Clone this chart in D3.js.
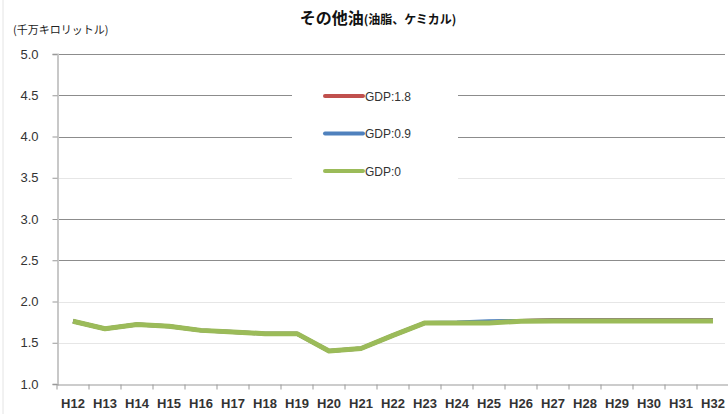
<!DOCTYPE html>
<html lang="ja">
<head>
<meta charset="UTF-8">
<title>その他油(油脂、ケミカル)</title>
<style>
  body { margin: 0; background: #fff; font-family: "Liberation Sans", Arial, "Noto Sans CJK JP", sans-serif; }
</style>
</head>
<body>
<script src="https://cdn.jsdelivr.net/npm/d3@7"></script>
<script>
var years = ["H12","H13","H14","H15","H16","H17","H18","H19","H20","H21","H22",
             "H23","H24","H25","H26","H27","H28","H29","H30","H31","H32"];
var gdp18 = [1.76,1.67,1.72,1.70,1.65,1.63,1.61,1.61,1.40,1.43,1.59,
             1.74,1.74,1.75,1.765,1.775,1.775,1.775,1.775,1.775,1.775];
var gdp09 = [1.76,1.67,1.72,1.70,1.65,1.63,1.61,1.61,1.40,1.43,1.59,
             1.74,1.745,1.76,1.765,1.77,1.77,1.77,1.77,1.77,1.77];
var gdp0  = [1.76,1.67,1.72,1.70,1.65,1.63,1.61,1.61,1.40,1.43,1.59,
             1.74,1.74,1.74,1.76,1.765,1.765,1.765,1.765,1.765,1.765];
var seriesNames = ["GDP:1.8","GDP:0.9","GDP:0"];
var seriesColors = ["#c0504d","#4f81bd","#9bbb59"];
var seriesWidths = [4, 4, 5];
var yTicks = [1.0,1.5,2.0,2.5,3.0,3.5,4.0,4.5,5.0];
var darkGrid = [2.5,3.0,4.0,4.5,5.0];

var W = 728, H = 414;
var plotL = 57, plotT = 54, plotB = 384;

var svg = d3.select("body").append("svg")
    .attr("width", W).attr("height", H);

// faint frame at left
svg.append("line").attr("x1", 3).attr("x2", 3).attr("y1", 0).attr("y2", H)
    .attr("stroke", "#e4e4e4");

var x = d3.scaleBand().domain(years).range([plotL, plotL + 32 * years.length]);
var y = d3.scaleLinear().domain([1, 5]).range([plotB, plotT]);

// grid
svg.append("g").selectAll("line")
    .data(yTicks.filter(function(d) { return d > 1; }))
  .enter().append("line")
    .attr("x1", plotL).attr("x2", 725)
    .attr("y1", function(d) { return Math.round(y(d)) + 0.5; })
    .attr("y2", function(d) { return Math.round(y(d)) + 0.5; })
    .attr("stroke", function(d) { return darkGrid.indexOf(d) >= 0 ? "#8c8c8c" : "#e6e6e6"; })
    .attr("stroke-width", 1.2);

// y axis
var yAxis = d3.axisLeft(y).tickValues(yTicks).tickFormat(d3.format(".1f")).tickSize(5).tickPadding(14);
var gy = svg.append("g").attr("transform", "translate(" + (plotL + 0.5) + ",0)").call(yAxis);
gy.select(".domain").attr("stroke", "#c8c8c8").attr("stroke-width", 2);
gy.selectAll(".tick line").attr("stroke", "#999");
gy.selectAll("text").attr("font-size", 13).attr("fill", "#333")
    .attr("font-family", "'Liberation Sans', Arial, sans-serif");

// x axis
var xAxis = d3.axisBottom(x).tickSize(0).tickPadding(14);
var gx = svg.append("g").attr("transform", "translate(0," + (plotB + 0.5) + ")").call(xAxis);
gx.select(".domain").attr("stroke", "#999").attr("stroke-width", 1.2);
gx.selectAll("text").attr("font-size", 13).attr("fill", "#333")
    .attr("font-family", "'Liberation Sans Narrow', 'Liberation Sans', Arial, sans-serif")
    .attr("font-weight", "bold");
gx.append("g").selectAll("line")
    .data(years.concat(["end"]))
  .enter().append("line")
    .attr("x1", function(d, i) { return plotL + i * x.bandwidth(); })
    .attr("x2", function(d, i) { return plotL + i * x.bandwidth(); })
    .attr("y1", 0).attr("y2", 5)
    .attr("stroke", "#999");

// legend box covers grid
svg.append("rect").attr("x", 292).attr("y", 80).attr("width", 166).attr("height", 108)
    .attr("fill", "#fff");

// lines
var line = d3.line()
    .x(function(d, i) { return x(years[i]) + x.bandwidth() / 2; })
    .y(function(d) { return y(d); });

[gdp18, gdp09, gdp0].forEach(function(s, k) {
  svg.append("path").datum(s)
      .attr("d", line)
      .attr("fill", "none")
      .attr("stroke", seriesColors[k])
      .attr("stroke-width", seriesWidths[k])
      .attr("stroke-linejoin", "round");
});

// legend
var lg = svg.append("g").selectAll("g").data(seriesNames)
  .enter().append("g")
    .attr("transform", function(d, i) { return "translate(325," + (96 + i * 37.5) + ")"; });
lg.append("line").attr("x1", 0).attr("x2", 38).attr("y1", 0).attr("y2", 0)
    .attr("stroke", function(d, i) { return seriesColors[i]; })
    .attr("stroke-width", 4).attr("stroke-linecap", "round");
lg.append("text").attr("x", 40).attr("y", 4.5).text(function(d) { return d; })
    .attr("font-size", 12).attr("fill", "#333")
    .attr("font-family", "'Liberation Sans Narrow', 'Liberation Sans', Arial, sans-serif");

// title
var title = svg.append("text").attr("x", 378).attr("y", 24).attr("text-anchor", "middle")
    .attr("font-weight", "bold").attr("fill", "#111")
    .attr("font-family", "'Noto Sans CJK JP', sans-serif");
title.append("tspan").attr("font-size", 16).text("その他油");
title.append("tspan").attr("font-size", 12).text("(油脂、ケミカル)");

// unit label
svg.append("text").attr("x", 13).attr("y", 34)
    .attr("font-size", 11).attr("fill", "#222")
    .attr("font-family", "'Noto Sans CJK JP', sans-serif")
    .text("(千万キロリットル)");
</script>
</body>
</html>
